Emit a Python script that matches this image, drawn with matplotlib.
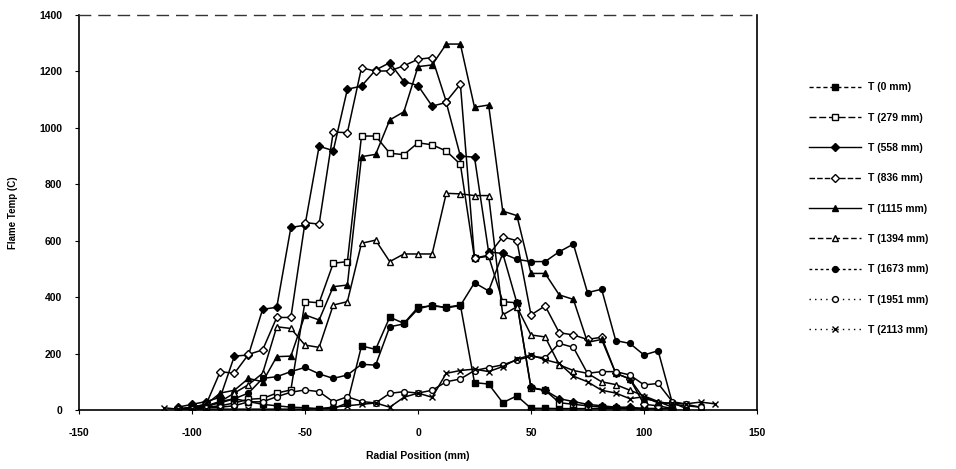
import numpy as np
import matplotlib
matplotlib.use("Agg")
import matplotlib.pyplot as plt
from matplotlib.lines import Line2D

nan = np.nan

radial_mm = [-112.5, -106.25, -100, -93.75, -87.5, -81.25, -75, -68.75, -62.5, -56.25,
             -50, -43.75, -37.5, -31.25, -25, -18.75, -12.5, -6.25, 0, 6.25,
             12.5, 18.75, 25, 31.25, 37.5, 43.75, 50, 56.25, 62.5, 68.75,
             75, 81.25, 87.5, 93.75, 100, 106.25, 112.5, 118.75, 125, 131.25]

t_0 = [nan, 0, 10, 15, 30, 40, 30, 20, 15, 10, 8, 5, 5, 25, 227, 215, 329, 307, 364, 369,
       364, 372, 97, 92, 26, 50, 6, 6, 5, 5, 5, 5, 5, 5, 5, 5, 5, nan, nan, nan]
t_279 = [nan, nan, 5, 10, 15, 25, 38, 41, 60, 71, 384, 380, 520, 526, 971, 971, 910, 905, 947, 940,
         918, 871, 538, 545, 384, 380, 77, 70, 26, 20, 15, 10, 8, 5, 5, nan, nan, nan, nan, nan]
t_558 = [nan, 10, 20, 30, 45, 191, 195, 357, 364, 647, 655, 935, 919, 1137, 1148, 1205, 1231, 1164, 1150, 1077,
         1090, 900, 896, 560, 555, 380, 80, 70, 40, 30, 20, 15, 10, 10, 5, 5, nan, nan, nan, nan]
t_836 = [nan, nan, 10, 20, 136, 130, 197, 213, 328, 328, 664, 659, 985, 983, 1213, 1201, 1202, 1220, 1243, 1249,
         1093, 1155, 538, 549, 614, 600, 337, 369, 274, 266, 250, 258, 130, 110, 20, 15, 5, nan, nan, nan]
t_1115 = [nan, nan, 10, 20, 60, 70, 112, 100, 189, 191, 337, 319, 437, 443, 898, 906, 1028, 1057, 1217, 1223,
          1297, 1297, 1073, 1081, 705, 689, 484, 484, 408, 392, 240, 250, 130, 110, 40, 30, 10, nan, nan, nan]
t_1394 = [nan, nan, 5, 10, 30, 60, 90, 130, 295, 289, 230, 222, 372, 384, 591, 602, 526, 553, 553, 553,
          768, 766, 760, 760, 337, 366, 266, 259, 160, 140, 130, 100, 90, 70, 50, 30, 20, 15, 10, nan]
t_1673 = [nan, 5, 10, 15, 25, 40, 60, 112, 118, 136, 151, 128, 112, 124, 162, 159, 295, 305, 358, 372,
          362, 370, 451, 422, 555, 534, 526, 526, 561, 588, 416, 428, 246, 236, 195, 210, 26, 5, nan, nan]
t_1951 = [nan, 3, 5, 8, 10, 15, 29, 29, 47, 63, 71, 65, 29, 47, 30, 25, 59, 65, 60, 70,
          100, 110, 140, 150, 160, 177, 190, 185, 236, 222, 130, 136, 136, 124, 89, 94, 30, 20, 10, nan]
t_2113 = [8, 3, 3, 3, 3, 3, 3, 3, 3, 3, 3, 5, 10, 15, 20, 25, 10, 45, 60, 45,
          130, 140, 145, 136, 154, 180, 195, 178, 165, 120, 100, 70, 60, 40, 47, 25, 25, 22, 28, 22]

series_labels = ["T (0 mm)", "T (279 mm)", "T (558 mm)", "T (836 mm)", "T (1115 mm)",
                 "T (1394 mm)", "T (1673 mm)", "T (1951 mm)", "T (2113 mm)"]
series_values = [t_0, t_279, t_558, t_836, t_1115, t_1394, t_1673, t_1951, t_2113]

x_ticks = [-150, -100, -50, 0, 50, 100, 150]
y_ticks = [0, 200, 400, 600, 800, 1000, 1200, 1400]

styles = [
    dict(marker="s", mfc="black", ls=(0, (3, 2))),
    dict(marker="s", mfc="white", ls=(0, (5, 2))),
    dict(marker="D", mfc="black", ls="-"),
    dict(marker="D", mfc="white", ls=(0, (4, 1.5))),
    dict(marker="^", mfc="black", ls="-"),
    dict(marker="^", mfc="white", ls=(0, (4, 2))),
    dict(marker="o", mfc="black", ls=(0, (2, 2))),
    dict(marker="o", mfc="white", ls=(0, (1, 3))),
    dict(marker="x", mfc="black", ls=(0, (1, 3))),
]

plt.rcParams["font.family"] = ["Liberation Sans", "DejaVu Sans"]
plt.rcParams["axes.unicode_minus"] = False

fig = plt.figure(figsize=(9.56, 4.69), dpi=100)
ax = fig.add_axes([79 / 956, 1 - 410 / 469, (757 - 79) / 956, (410 - 15) / 469])

for vals, lab, st in zip(series_values, series_labels, styles):
    ax.plot(radial_mm, vals, color="black", lw=1.1, ls="-",
            marker=st["marker"], markersize=4.2 if st["marker"] != "x" else 4.5,
            markerfacecolor=st["mfc"], markeredgecolor="black", markeredgewidth=1.0,
            label=lab)

ax.set_xlim(-150, 150)
ax.set_ylim(0, 1400)
ax.set_xticks(x_ticks)
ax.set_yticks(y_ticks)
ax.set_xticklabels([str(v) for v in x_ticks], fontsize=7.5, fontweight="bold")
ax.set_yticklabels([str(v) for v in y_ticks], fontsize=7.5, fontweight="bold")
ax.tick_params(axis="x", direction="out", length=3, width=0.8, pad=10)
ax.tick_params(axis="y", direction="out", length=3, width=0.8, pad=9)

for s in ["left", "right", "bottom"]:
    ax.spines[s].set_linewidth(1.2)
    ax.spines[s].set_color("black")
ax.spines["top"].set_linestyle((0, (8, 6)))
ax.spines["top"].set_linewidth(1.0)
ax.spines["top"].set_color("#333333")

ax.set_xlabel("Radial Position (mm)", fontsize=7.5, fontweight="bold", labelpad=9)
ax.set_ylabel("Flame Temp (C)", fontsize=7, fontweight="bold", labelpad=15)

handles = []
for lab, st in zip(series_labels, styles):
    handles.append(Line2D([0], [0], color="black", lw=1.0, ls=st["ls"], marker=st["marker"],
                          markersize=4.2, markerfacecolor=st["mfc"], markeredgecolor="black"))
leg = fig.legend(handles, series_labels, loc="center left", bbox_to_anchor=(800 / 956, 0.555),
                 frameon=False, handlelength=5.0, handletextpad=0.6,
                 labelspacing=1.95, prop=dict(weight="bold", size=7.5))

fig.savefig("out.png", dpi=100)
